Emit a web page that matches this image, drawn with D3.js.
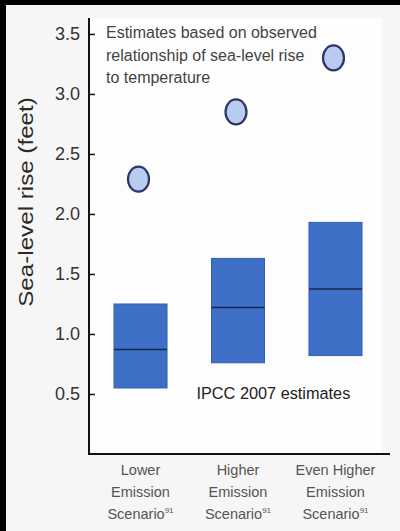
<!DOCTYPE html>
<html><head><meta charset="utf-8">
<script src="https://cdn.jsdelivr.net/npm/d3@7/dist/d3.min.js"></script>
<style>
html,body{margin:0;padding:0;background:#000;}
svg{display:block;}
</style></head>
<body>
<script>
const categories = [["Lower","Emission","Scenario"],["Higher","Emission","Scenario"],["Even Higher","Emission","Scenario"]];
const rangeLow = [0.55, 0.76, 0.82];
const rangeHigh = [1.25, 1.63, 1.93];
const rangeMid = [0.87, 1.22, 1.375];
const observedEstimate = [2.29, 2.85, 3.3];
const yTicks = [0.5, 1.0, 1.5, 2.0, 2.5, 3.0, 3.5];
const noteLines = ["Estimates based on observed", "relationship of sea-level rise", "to temperature"];
const ipccLabel = "IPCC 2007 estimates";
const yTitle = "Sea-level rise (feet)";
const footnote = "91";

const W = 400, H = 531;
const FONT = "Liberation Sans, Arial, Helvetica, sans-serif";
const svg = d3.select("body").append("svg").attr("width", W).attr("height", H);
// frame
svg.append("rect").attr("x", 0).attr("y", 0).attr("width", W).attr("height", H).attr("fill", "#000");
svg.append("rect").attr("x", 6).attr("y", 5).attr("width", W - 6).attr("height", H - 5).attr("fill", "#f6f6f6");

const plot = {left: 89, right: 390, top: 18, bottom: 454};
svg.append("rect").attr("x", plot.left).attr("y", plot.top).attr("width", plot.right - plot.left - 8).attr("height", plot.bottom - plot.top).attr("fill", "#fdfdfd");

const y = d3.scaleLinear().domain([0, 3.633]).range([plot.bottom, plot.top]);
const x = d3.scaleBand().domain(d3.range(categories.length)).range([84.75, 391.25]).paddingInner(0.456).paddingOuter(0.3);

// bars
const g = svg.append("g");
g.selectAll("rect.bar").data(d3.range(categories.length)).join("rect")
  .attr("class", "bar")
  .attr("x", i => x(i)).attr("width", x.bandwidth())
  .attr("y", i => y(rangeHigh[i])).attr("height", i => y(rangeLow[i]) - y(rangeHigh[i]))
  .attr("fill", "#3d6fc6").attr("stroke", "#3561b0").attr("stroke-width", 1);
g.selectAll("line.mid").data(d3.range(categories.length)).join("line")
  .attr("class", "mid")
  .attr("x1", i => x(i)).attr("x2", i => x(i) + x.bandwidth())
  .attr("y1", i => y(rangeMid[i])).attr("y2", i => y(rangeMid[i]))
  .attr("stroke", "#17284a").attr("stroke-width", 1.5);

// circles
g.selectAll("ellipse.obs").data(d3.range(categories.length)).join("ellipse")
  .attr("class", "obs")
  .attr("cx", i => x(i) + x.bandwidth() / 2 - 2).attr("cy", i => y(observedEstimate[i]))
  .attr("rx", 10.5).attr("ry", 12.5)
  .attr("fill", "#b9cbee").attr("stroke", "#2c3468").attr("stroke-width", 2.2);

// y axis
const yAxis = d3.axisLeft(y).tickValues(yTicks).tickFormat(d3.format(".1f")).tickSize(-6).tickPadding(9);
const ya = svg.append("g").attr("transform", `translate(${plot.left},0)`).call(yAxis);
ya.select(".domain").remove();
ya.selectAll(".tick line").attr("stroke", "#111").attr("stroke-width", 1.5);
ya.selectAll(".tick text").attr("fill", "#333").style("font-family", FONT).style("font-size", "18px");
svg.append("line").attr("x1", plot.left).attr("x2", plot.left).attr("y1", plot.top).attr("y2", plot.bottom)
  .attr("stroke", "#111").attr("stroke-width", 2);
svg.append("line").attr("x1", plot.left - 1).attr("x2", plot.right).attr("y1", plot.bottom).attr("y2", plot.bottom)
  .attr("stroke", "#111").attr("stroke-width", 2);

// y title
svg.append("text").attr("transform", `translate(33,${y(2.1)}) rotate(-90) scale(1.24,1)`)
  .attr("text-anchor", "middle").attr("fill", "#2a2a2a")
  .style("font-family", FONT).style("font-size", "19.5px")
  .text(yTitle);

// note
svg.append("g").selectAll("text").data(noteLines).join("text")
  .attr("x", 106).attr("y", (d, i) => 38 + i * 22.5)
  .attr("fill", "#444").style("font-family", FONT).style("font-size", "16px")
  .text(d => d);

// ipcc label
svg.append("text").attr("x", x(1) - 15).attr("y", y(0.46))
  .attr("fill", "#222")
  .style("font-family", FONT).style("font-size", "16.3px")
  .text(ipccLabel);

// category labels
const cat = svg.append("g").selectAll("text").data(categories.map((c, i) => ({c, i}))).join("text")
  .attr("text-anchor", "middle").attr("fill", "#555")
  .style("font-family", FONT).style("font-size", "14.5px");
cat.each(function(d) {
  const t = d3.select(this);
  d.c.forEach((line, j) => {
    t.append("tspan").attr("x", x(d.i) + x.bandwidth() / 2).attr("y", 475 + j * 22).text(line);
    if (j === d.c.length - 1) {
      t.append("tspan").attr("dy", -6).style("font-size", "8px").text(footnote);
    }
  });
});
</script>
</body></html>
